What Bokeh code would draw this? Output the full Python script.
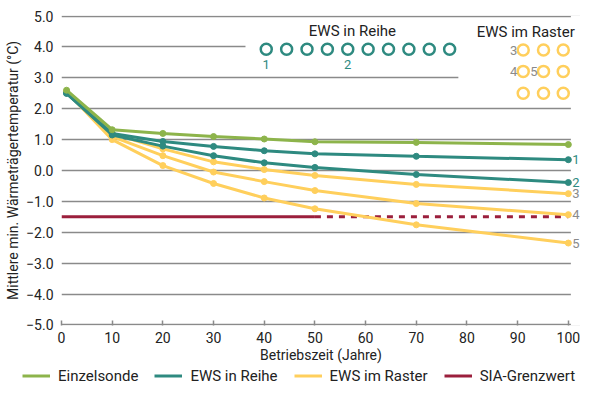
from bokeh.plotting import figure
from bokeh.layouts import column
from bokeh.models import Range1d, FixedTicker, Label, Legend, LegendItem
from bokeh.embed import file_html
from bokeh.resources import INLINE

# ---- data ----
years = [1, 10, 20, 30, 40, 50, 70, 100]
einzelsonde = [2.6, 1.32, 1.2, 1.1, 1.02, 0.93, 0.91, 0.84]
reihe_1 = [2.5, 1.2, 0.94, 0.78, 0.64, 0.54, 0.46, 0.35]
reihe_2 = [2.5, 1.15, 0.79, 0.48, 0.25, 0.10, -0.13, -0.39]
raster_3 = [2.55, 1.2, 0.70, 0.28, 0.03, -0.16, -0.45, -0.75]
raster_4 = [2.55, 1.1, 0.48, -0.05, -0.36, -0.65, -1.07, -1.43]
raster_5 = [2.55, 1.0, 0.16, -0.42, -0.89, -1.24, -1.76, -2.35]

sia_limit = -1.5
sia_solid_years = [0, 50]
sia_dashed_years = [50, 100]

y_ticks = [-5, -4, -3, -2, -1, 0, 1, 2, 3, 4, 5]
y_tick_labels = ["−5.0", "−4.0", "−3.0", "−2.0", "−1.0", "0.0", "1.0", "2.0", "3.0", "4.0", "5.0"]
x_ticks = [0, 10, 20, 30, 40, 50, 60, 70, 80, 90, 100]

series_labels = ["Einzelsonde", "EWS in Reihe", "EWS im Raster", "SIA-Grenzwert"]

GREEN = "#8db44b"
TEAL = "#2e8a80"
YELLOW = "#ffcf5c"
RED = "#9b1f3c"
GREY = "#8a8a8a"
TXT = "#222222"
FONT = "Roboto"

X_END = 102.4   # room for the end labels inside the frame
GRID_END = 100.5
Y_LO, Y_HI = -5.02, 5.02

W = 580
H_MAIN = 366
H_LEG = 19

p = figure(width=W, height=H_MAIN, output_backend="svg", toolbar_location=None,
           title=None, x_range=Range1d(0, X_END), y_range=Range1d(Y_LO, Y_HI),
           min_border_left=61, min_border_right=0, min_border_top=15,
           min_border_bottom=41)
p.frame_align = False
p.outline_line_color = None
p.background_fill_color = "white"

# axes
p.xaxis.ticker = FixedTicker(ticks=x_ticks)
p.xaxis.major_tick_in = 5
p.xaxis.major_tick_out = 0
p.xaxis.minor_tick_line_color = None
p.xaxis.axis_line_color = None
p.xaxis.major_tick_line_color = GREY
p.xaxis.major_tick_line_width = 1.5
p.xaxis.major_label_standoff = 6
p.xaxis.major_label_text_font = FONT
p.xaxis.major_label_text_font_size = "14px"
p.xaxis.major_label_text_color = TXT
p.xaxis.axis_label = "Betriebszeit (Jahre)"
p.xaxis.axis_label_text_font = FONT
p.xaxis.axis_label_text_font_size = "14px"
p.xaxis.axis_label_text_font_style = "normal"
p.xaxis.axis_label_text_color = TXT
p.xaxis.axis_label_standoff = 1

p.yaxis.ticker = FixedTicker(ticks=y_ticks)
p.yaxis.major_label_overrides = {t: s for t, s in zip(y_ticks, y_tick_labels)}
p.yaxis.major_tick_in = 0
p.yaxis.major_tick_out = 0
p.yaxis.minor_tick_line_color = None
p.yaxis.axis_line_color = None
p.yaxis.major_label_standoff = 8
p.yaxis.major_label_text_font = FONT
p.yaxis.major_label_text_font_size = "14px"
p.yaxis.major_label_text_color = TXT
p.yaxis.axis_label = "Mittlere min. Wärmeträgertemperatur (°C)"
p.yaxis.axis_label_text_font = FONT
p.yaxis.axis_label_text_font_size = "14px"
p.yaxis.axis_label_text_font_style = "normal"
p.yaxis.axis_label_text_color = TXT
p.yaxis.axis_label_standoff = 2

p.xgrid.visible = False
p.ygrid.ticker = FixedTicker(ticks=y_ticks)
p.ygrid.grid_line_color = GREY
p.ygrid.grid_line_width = 1.5

# white panels that interrupt the grid lines (inset legends, right margin)
p.quad(left=[36.3, 78.3, GRID_END], right=[X_END, X_END, X_END],
       bottom=[3.3, 2.35, Y_LO], top=[4.75, 4.75, Y_HI],
       fill_color="white", line_color=None)

# SIA limit
p.line(sia_solid_years, [sia_limit] * len(sia_solid_years), line_color=RED, line_width=3)
p.line(sia_dashed_years, [sia_limit] * len(sia_dashed_years), line_color=RED, line_width=3,
       line_dash="6 6")

# series
for ser in [raster_5, raster_4, raster_3]:
    p.line(years, ser, line_color=YELLOW, line_width=3)
    p.scatter(years, ser, size=6, color=YELLOW)
for ser in [reihe_2, reihe_1]:
    p.line(years, ser, line_color=TEAL, line_width=3)
    p.scatter(years, ser, size=6, color=TEAL)
p.line(years, einzelsonde, line_color=GREEN, line_width=3)
p.scatter(years, einzelsonde, size=6, color=GREEN)

# end labels
end_labels = [("1", reihe_1[-1], TEAL), ("2", reihe_2[-1], TEAL),
              ("3", raster_3[-1], GREY), ("4", raster_4[-1], GREY),
              ("5", raster_5[-1], GREY)]
for txt, yv, col in end_labels:
    p.add_layout(Label(x=years[-1], y=yv, text=txt, x_offset=4, text_baseline="middle",
                       text_align="left", text_color=col, text_font=FONT,
                       text_font_size="13px"))

# inset: EWS in Reihe
p.add_layout(Label(x=57.4, y=4.51, text="EWS in Reihe", text_align="center",
                   text_baseline="middle", text_color=TXT, text_font=FONT,
                   text_font_size="15px"))
row_x = [40.4 + i * 4.02 for i in range(10)]
p.scatter(row_x, [3.93] * len(row_x), size=11, line_color=TEAL, line_width=2.5,
          fill_color="white")
for idx, txt in [(0, "1"), (4, "2")]:
    p.add_layout(Label(x=row_x[idx], y=3.44, text=txt, text_align="center",
                       text_baseline="middle", text_color=TEAL, text_font=FONT,
                       text_font_size="13px"))

# inset: EWS im Raster
p.add_layout(Label(x=91.6, y=4.48, text="EWS im Raster", text_align="center",
                   text_baseline="middle", text_color=TXT, text_font=FONT,
                   text_font_size="15px"))
cols = [91.1, 95.1, 99.0]
rows = [3.90, 3.21, 2.50]
gx = [c for r in rows for c in cols]
gy = [r for r in rows for c in cols]
p.scatter(gx, gy, size=11, line_color=YELLOW, line_width=2.5, fill_color="white")
for txt, xx, yy in [("3", cols[0], rows[0]), ("4", cols[0], rows[1]), ("5", cols[1], rows[1])]:
    p.add_layout(Label(x=xx, y=yy, text=txt, x_offset=-6, text_align="right",
                       text_baseline="middle", text_color=GREY, text_font=FONT,
                       text_font_size="13px"))

# ---- bottom legend strip ----
pl = figure(width=W, height=H_LEG, output_backend="svg", toolbar_location=None,
            title=None, x_axis_type=None, y_axis_type=None,
            x_range=Range1d(0, W), y_range=Range1d(0, H_LEG),
            min_border=0, min_border_left=0, min_border_right=0,
            min_border_top=0, min_border_bottom=0)
pl.frame_align = False
pl.outline_line_color = None
pl.xgrid.visible = False
pl.ygrid.visible = False
# legend-only renderers, kept outside the visible range of the strip
leg_renderers = [pl.line([-20, -10], [-20, -20], line_color=c, line_width=3)
                 for c in [GREEN, TEAL, YELLOW, RED]]
items = [LegendItem(label=lab, renderers=[r]) for lab, r in zip(series_labels, leg_renderers)]
leg = Legend(items=items, location=(22, 0), orientation="horizontal",
             border_line_color=None, background_fill_alpha=0, padding=0, margin=0,
             spacing=16, glyph_width=28, glyph_height=H_LEG, label_height=H_LEG,
             label_standoff=8, label_text_font=FONT, label_text_font_size="15px",
             label_text_color=TXT)
pl.add_layout(leg)

layout = column(p, pl, spacing=0)
open("out.html", "w").write(file_html(layout, INLINE))
